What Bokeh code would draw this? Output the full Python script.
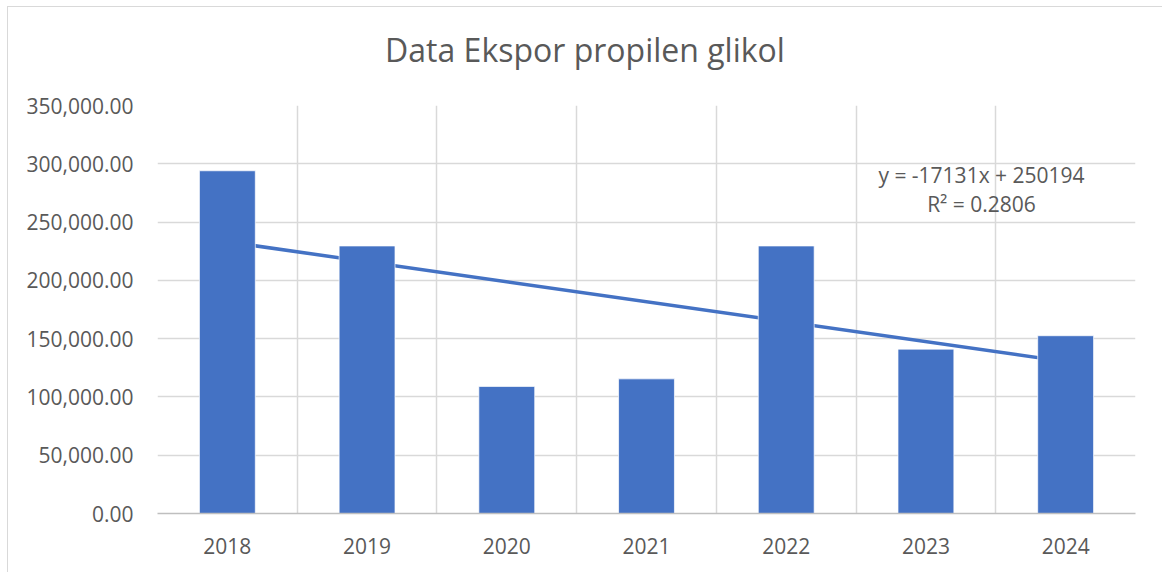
from bokeh.plotting import figure
from bokeh.models import (FactorRange, Range1d, SingleIntervalTicker, FixedTicker,
                          NumeralTickFormatter, Label, ColumnDataSource, Div)
from bokeh.layouts import column
from bokeh.embed import file_html
from bokeh.resources import INLINE

# ---- data ----
years = ["2018", "2019", "2020", "2021", "2022", "2023", "2024"]
exports = [294000, 229500, 109000, 115500, 229500, 141000, 152500]
trend_slope = -17131
trend_intercept = 250194
trend_r2 = 0.2806
title_text = "Data Ekspor propilen glikol"

BAR = "#4472C4"
TXT = "#595959"
GRID = "#d9d9d9"
FONT = "Open Sans"

title = Div(text=title_text, width=1154, height=86, margin=(0, 0, 0, 0),
            styles={"text-align": "center", "line-height": "86px", "font-size": "32px",
                    "color": TXT, "font-family": FONT, "width": "1154px",
                    "background": "white"})

p = figure(width=1154, height=479, x_range=FactorRange(*years, range_padding=0),
           y_range=Range1d(0, 350000), output_backend="svg", toolbar_location=None,
           min_border_left=149, min_border_right=27, min_border_top=12, min_border_bottom=59)
p.margin = (0, 0, 0, 0)
p.outline_line_color = None

# trendline (drawn behind the bars), through centres of first and last category
idx = list(range(1, len(years) + 1))
trend_vals = [trend_slope * i + trend_intercept for i in idx]
p.line(x=[0.5, len(years) - 0.5], y=[trend_vals[0], trend_vals[-1]],
       line_color=BAR, line_width=3.5)

src = ColumnDataSource(dict(x=years, top=exports))
p.vbar(x="x", top="top", width=0.4, source=src, fill_color=BAR,
       line_color="white", line_width=0.7)

# grids
p.ygrid.ticker = SingleIntervalTicker(interval=50000)
p.ygrid.grid_line_color = GRID
p.ygrid.grid_line_width = 1.5
p.xgrid.ticker = FixedTicker(ticks=list(range(0, len(years) + 1)))
p.xgrid.grid_line_color = GRID
p.xgrid.grid_line_width = 1.5

# y axis
p.yaxis.ticker = SingleIntervalTicker(interval=50000)
p.yaxis.formatter = NumeralTickFormatter(format="0,0.00")
p.yaxis.axis_line_color = None
p.yaxis.major_tick_line_color = None
p.yaxis.minor_tick_line_color = None
p.yaxis.major_tick_out = 0
p.yaxis.major_tick_in = 0
p.yaxis.major_label_standoff = 20
p.yaxis.major_label_text_font = FONT
p.yaxis.major_label_text_font_size = "21px"
p.yaxis.major_label_text_color = TXT

# x axis
p.xaxis.axis_line_color = "#bfbfbf"
p.xaxis.axis_line_width = 1.5
p.xaxis.major_tick_line_color = None
p.xaxis.major_tick_out = 0
p.xaxis.major_tick_in = 0
p.xaxis.major_label_standoff = 24
p.xaxis.major_label_text_font = FONT
p.xaxis.major_label_text_font_size = "21px"
p.xaxis.major_label_text_color = TXT

# trendline equation
p.add_layout(Label(x=824, y=339, x_units="screen", y_units="screen",
                   text=f"y = {trend_slope}x + {trend_intercept}",
                   text_align="center", text_baseline="middle", text_font=FONT,
                   text_font_size="21px", text_color=TXT))
p.add_layout(Label(x=824, y=310, x_units="screen", y_units="screen",
                   text=f"R² = {trend_r2}",
                   text_align="center", text_baseline="middle", text_font=FONT,
                   text_font_size="21px", text_color=TXT))

layout = column(title, p, spacing=0, margin=(7, 0, 0, 8))
layout.styles = {"outline": "1px solid #d9d9d9"}

open("out.html", "w").write(file_html(layout, INLINE))
